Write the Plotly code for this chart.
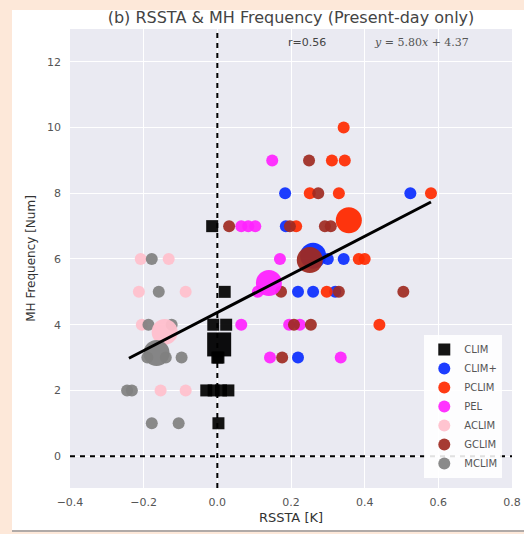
import plotly.graph_objects as go

# ---------------- data ----------------
groups = ["CLIM", "CLIM+", "PCLIM", "PEL", "ACLIM", "GCLIM", "MCLIM"]
colors = ["#000000", "#0a2cff", "#ff2a00", "#ff22ff", "#ffbfcc", "#9e2a22", "#808080"]
symbols = ["square", "circle", "circle", "circle", "circle", "circle", "circle"]

clim_x = [-0.014, 0.02, -0.011, 0.024, 0.0, 0.003, -0.03, -0.01, 0.01, 0.03, 0.003]
clim_y = [7, 5, 4, 4, 3, 3, 2, 2, 2, 2, 1]
climp_x = [0.184, 0.524, 0.186, 0.30, 0.343, 0.219, 0.26, 0.32, 0.219]
climp_y = [8, 8, 7, 6, 6, 5, 5, 5, 3]
pclim_x = [0.343, 0.311, 0.346, 0.251, 0.33, 0.58, 0.214, 0.384, 0.40, 0.297, 0.44]
pclim_y = [10, 9, 9, 8, 8, 8, 7, 6, 6, 5, 4]
pel_x = [0.149, 0.065, 0.084, 0.103, 0.17, 0.11, 0.065, 0.195, 0.224, 0.143, 0.335]
pel_y = [9, 7, 7, 7, 6, 5, 4, 4, 4, 3, 3]
aclim_x = [-0.208, -0.132, -0.213, -0.086, -0.205, -0.154, -0.086]
aclim_y = [6, 6, 5, 5, 4, 2, 2]
gclim_x = [0.249, 0.274, 0.032, 0.197, 0.292, 0.308, 0.173, 0.33, 0.505, 0.208, 0.254, 0.176]
gclim_y = [9, 8, 7, 7, 7, 7, 5, 5, 5, 4, 4, 3]
mclim_x = [-0.178, -0.159, -0.187, -0.124, -0.19, -0.14, -0.097, -0.245, -0.232, -0.178, -0.105]
mclim_y = [6, 5, 4, 4, 3, 3, 3, 2, 2, 1, 1]

group_x = [clim_x, climp_x, pclim_x, pel_x, aclim_x, gclim_x, mclim_x]
group_y = [clim_y, climp_y, pclim_y, pel_y, aclim_y, gclim_y, mclim_y]

# group means (large markers)
mean_x = [0.005, 0.26, 0.357, 0.14, -0.143, 0.251, -0.165]
mean_y = [3.4, 6.1, 7.18, 5.27, 3.78, 5.97, 3.14]

# regression
slope, intercept, r_val = 5.80, 4.37, 0.56
fit_x = [-0.24, 0.58]

x_range = [-0.4, 0.8]
y_range = [-0.97, 13.0]
x_ticks = [-0.4, -0.2, 0.0, 0.2, 0.4, 0.6, 0.8]
x_tick_text = ["\u22120.4", "\u22120.2", "0.0", "0.2", "0.4", "0.6", "0.8"]
y_ticks = [0, 2, 4, 6, 8, 10, 12]

# ---------------- figure ----------------
FONT = "DejaVu Sans"
W, H = 524, 534
ML, MR, MT, MB = 70, 12, 29, 46
PW, PH = W - ML - MR, H - MT - MB

fig = go.Figure()

# reference dashed lines
fig.add_trace(go.Scatter(x=[0, 0], y=y_range, mode="lines",
                         line=dict(color="black", width=2, dash="5px,5px"),
                         showlegend=False, hoverinfo="skip"))
fig.add_trace(go.Scatter(x=x_range, y=[0, 0], mode="lines",
                         line=dict(color="black", width=2, dash="5px,5px"),
                         showlegend=False, hoverinfo="skip"))

for g, c, s, xs, ys in zip(groups, colors, symbols, group_x, group_y):
    fig.add_trace(go.Scatter(x=xs, y=ys, mode="markers", name=g,
                             marker=dict(color=c, symbol=s, size=12, opacity=0.92)))

for g, c, s, mx, my in zip(groups, colors, symbols, mean_x, mean_y):
    fig.add_trace(go.Scatter(x=[mx], y=[my], mode="markers", name=g + " mean",
                             showlegend=False,
                             marker=dict(color=c, symbol=s, size=26 if s == "circle" else 24,
                                         opacity=0.95)))

fit_y = [slope * v + intercept for v in fit_x]
fig.add_trace(go.Scatter(x=fit_x, y=fit_y, mode="lines",
                         line=dict(color="black", width=3),
                         showlegend=False, hoverinfo="skip"))

fig.update_layout(
    width=W, height=H,
    margin=dict(l=ML, r=MR, t=MT, b=MB, autoexpand=False),
    paper_bgcolor="white",
    plot_bgcolor="#eaeaf2",
    font=dict(family=FONT, color="#444444", size=12),
    title=dict(text="(b) RSSTA & MH Frequency (Present-day only)",
               x=0.5, xref="paper", xanchor="center", y=1 - 17 / H, yanchor="middle",
               font=dict(size=16, color="#444444")),
    xaxis=dict(range=x_range, tickvals=x_ticks, ticktext=x_tick_text, automargin=False,
               showgrid=True, gridcolor="white", gridwidth=1, zeroline=False,
               showline=False, ticks="", ticklabelstandoff=6,
               tickfont=dict(size=11, color="#555555"),
               title=dict(text="RSSTA [K]", font=dict(size=13, color="#333333"),
                          standoff=4)),
    yaxis=dict(range=y_range, tickvals=y_ticks, automargin=False,
               showgrid=True, gridcolor="white", gridwidth=1, zeroline=False,
               showline=False, ticks="", ticklabelstandoff=8,
               tickfont=dict(size=11, color="#555555"),
               title=dict(text="MH Frequency [Num]", font=dict(size=12, color="#333333"),
                          standoff=8)),
    legend=dict(x=0.978, y=0.022, xanchor="right", yanchor="bottom",
                bgcolor="rgba(255,255,255,0.88)", borderwidth=0,
                font=dict(size=10, color="#555555"),
                itemsizing="constant", tracegroupgap=0),
    showlegend=True,
)

# peach outer frame (left strip, top strip, bottom strip) + grey bottom rule
def px_x(p):
    return (p - ML) / PW

def px_y(p):
    return 1 - (p - MT) / PH

peach = "#fde8d9"
fig.add_shape(type="rect", xref="paper", yref="paper",
              x0=px_x(0), x1=px_x(12), y0=px_y(H), y1=px_y(0),
              fillcolor=peach, line=dict(width=0), layer="below")
fig.add_shape(type="rect", xref="paper", yref="paper",
              x0=px_x(0), x1=px_x(W), y0=px_y(10), y1=px_y(0),
              fillcolor=peach, line=dict(width=0), layer="below")
fig.add_shape(type="rect", xref="paper", yref="paper",
              x0=px_x(0), x1=px_x(W), y0=px_y(H), y1=px_y(531),
              fillcolor=peach, line=dict(width=0), layer="below")
fig.add_shape(type="line", xref="paper", yref="paper",
              x0=px_x(12), x1=px_x(W), y0=px_y(531), y1=px_y(531),
              line=dict(color="#b0aaa8", width=2), layer="below")

fig.add_annotation(text="r=%.2f" % r_val, x=px_x(307), y=px_y(43), xref="paper", yref="paper",
                   showarrow=False, xanchor="center", yanchor="middle",
                   font=dict(size=11, color="#444444"))
fig.add_annotation(text="<i>y</i> = %.2f<i>x</i> + %.2f" % (slope, intercept),
                   x=px_x(421), y=px_y(43),
                   xref="paper", yref="paper", showarrow=False,
                   xanchor="center", yanchor="middle",
                   font=dict(size=11, color="#555555", family="DejaVu Serif"))

fig.write_html("out.html")
